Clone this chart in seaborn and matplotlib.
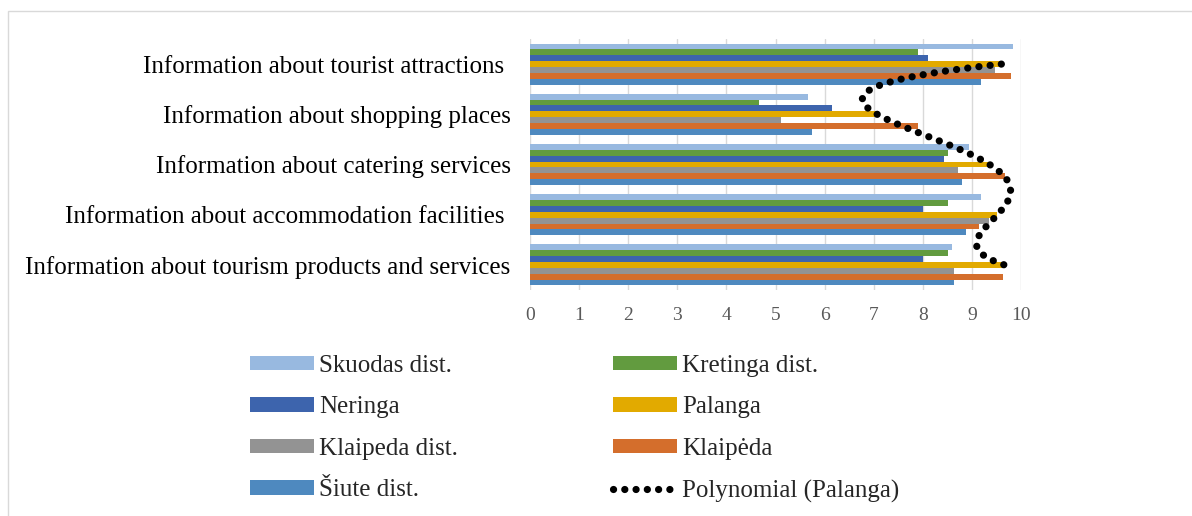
import numpy as np
import pandas as pd
import matplotlib.pyplot as plt
import seaborn as sns
from matplotlib.patches import Patch, Rectangle
from matplotlib.lines import Line2D

# Categories, top to bottom
categories = ['Information about tourist attractions ',
              'Information about shopping places',
              'Information about catering services',
              'Information about accommodation facilities ',
              'Information about tourism products and services']

regions = ['Skuodas dist.', 'Kretinga dist.', 'Neringa', 'Palanga',
           'Klaipeda dist.', 'Klaipėda', 'Šiute dist.']

skuodas = [9.84, 5.67, 8.95, 9.19, 8.59]
kretinga = [7.91, 4.67, 8.51, 8.51, 8.51]
neringa = [8.11, 6.15, 8.43, 8.00, 8.00]
palanga = [9.60, 7.07, 9.36, 9.52, 9.66]
klaipeda_dist = [9.48, 5.11, 8.72, 9.35, 8.63]
klaipeda = [9.80, 7.91, 9.68, 9.15, 9.63]
siute = [9.19, 5.75, 8.80, 8.87, 8.63]

colors = ['#98b9e0', '#629b3f', '#3d64ad', '#e2aa00',
          '#939393', '#d46e2c', '#4e89bf']

series = [skuodas, kretinga, neringa, palanga, klaipeda_dist, klaipeda, siute]
rows = []
for reg, vals in zip(regions, series):
    for cat, v in zip(categories, vals):
        rows.append({'category': cat, 'region': reg, 'value': v})
df = pd.DataFrame(rows)

sns.set_style('white')
plt.rcParams['font.family'] = ['Liberation Serif', 'DejaVu Serif']

fig = plt.figure(figsize=(11.92, 5.16), dpi=100)
ax = fig.add_axes([530 / 1192, 1 - 290 / 516, 491 / 1192, 251 / 516])

sns.barplot(data=df, x='value', y='category', hue='region', order=categories,
            hue_order=regions, palette=colors, width=0.82, orient='h',
            saturation=1, errorbar=None, linewidth=0, legend=False, ax=ax)

# Polynomial (order 4) trendline for Palanga, as in Excel
dots = (0, (0.01, 1.55))
pos = np.arange(len(categories))
coef = np.polyfit(pos, palanga, 4)
t = np.linspace(0, len(categories) - 1, 400)
ax.plot(np.polyval(coef, t), t, color='black', lw=5.2,
        linestyle=dots, dash_capstyle='round', zorder=5)

ax.set_xlim(0, 10)
ax.set_ylim(4.5, -0.5)
ax.set_xticks(range(0, 11))
ax.grid(axis='x', color='#d9d9d9', lw=1)
ax.set_axisbelow(True)
for s in ax.spines.values():
    s.set_visible(False)
ax.set_xlabel('')
ax.set_ylabel('')
ax.tick_params(axis='x', length=0, pad=12.5, labelsize=14, labelcolor='#595959')
ax.tick_params(axis='y', length=0, pad=14, labelsize=18, labelcolor='black')

# legend
handles = {reg: Patch(facecolor=c, edgecolor='none') for reg, c in zip(regions, colors)}
trend = Line2D([], [], color='black', lw=5.2, linestyle=dots,
               dash_capstyle='round')
order = ['Skuodas dist.', 'Neringa', 'Klaipeda dist.', 'Šiute dist.',
         'Kretinga dist.', 'Palanga', 'Klaipėda']
hl = [handles[r] for r in order] + [trend]
labels = order + ['Polynomial (Palanga)']
fig.legend(hl, labels, ncol=2, loc='upper left',
           bbox_to_anchor=(250 / 1192, 1 - 355 / 516), frameon=False,
           fontsize=18, handlelength=2.57, handleheight=0.52, handletextpad=0.2,
           labelspacing=0.78, columnspacing=6.2, borderpad=0, borderaxespad=0)

# outer chart frame
fig.add_artist(Rectangle((8 / 1192, -0.1), 1.2, 1 - 11 / 516 + 0.1,
                         transform=fig.transFigure, fill=False,
                         edgecolor='#d9d9d9', lw=1))

fig.savefig('out.png', dpi=100)
